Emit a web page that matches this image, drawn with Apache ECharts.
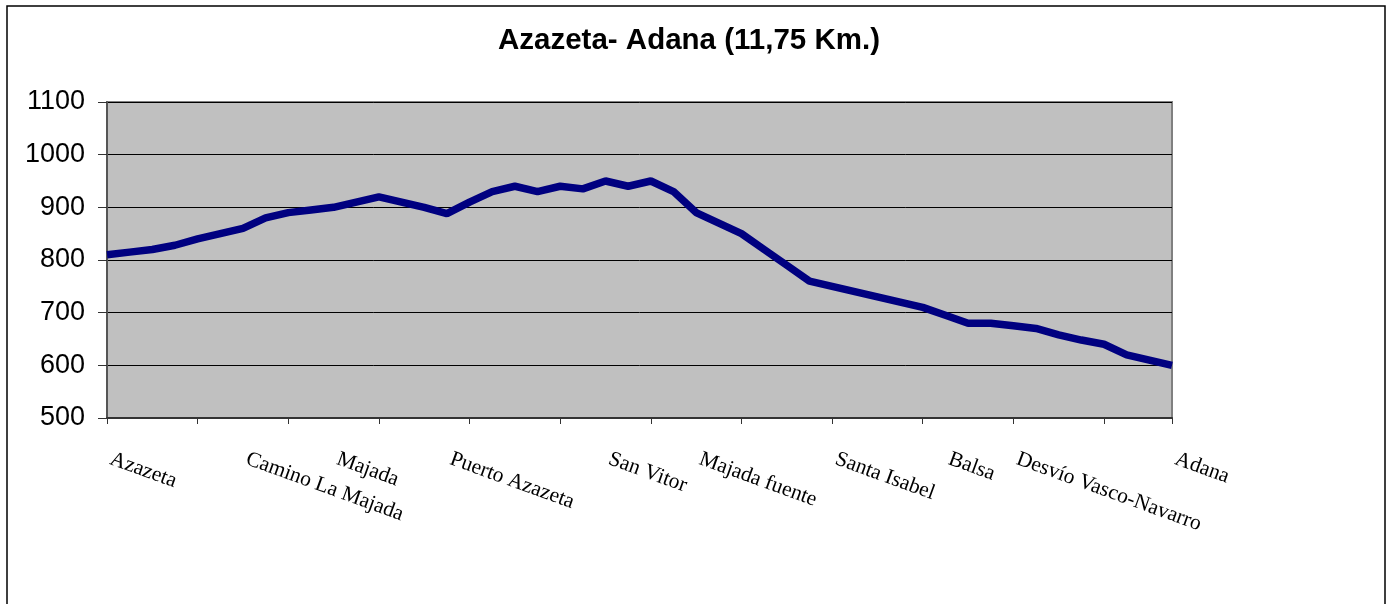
<!DOCTYPE html>
<html>
<head>
<meta charset="utf-8">
<script src="https://cdn.jsdelivr.net/npm/echarts@6/dist/echarts.min.js"></script>
<style>
  html, body { margin: 0; padding: 0; background: #fff; }
  #main { width: 1391px; height: 604px; }
</style>
</head>
<body>
<div id="main"></div>
<script>
// perfil cada 0,25 km (48 puntos), nombre solo donde hay lugar
var categories = [
  'Azazeta', '', '', '', '', '', 'Camino La Majada', '', '', '', 'Majada', '',
  '', '', '', 'Puerto Azazeta', '', '', '', '', '', '', 'San Vitor', '',
  '', '', 'Majada fuente', '', '', '', '', '', 'Santa Isabel', '', '', '',
  '', 'Balsa', '', '', 'Desvío Vasco-Navarro', '', '', '', '', '', '', 'Adana'
];
var elevation = [
  810, 815, 820, 828, 840, 850, 860, 880, 890, 895, 900, 910,
  920, 910, 900, 888, 910, 930, 940, 930, 940, 935, 950, 940,
  950, 930, 890, 870, 850, 820, 790, 760, 750, 740, 730, 720,
  710, 695, 680, 680, 675, 670, 658, 648, 640, 620, 610, 600
];
var yMin = 500, yMax = 1100, yStep = 100;

var myChart = echarts.init(document.getElementById('main'));
var option = {
  animation: false,
  title: {
    text: 'Azazeta- Adana (11,75 Km.)',
    left: 498,
    top: 26,
    padding: 0,
    textStyle: {
      fontFamily: 'Liberation Sans',
      fontWeight: 'bold',
      fontSize: 29.5,
      color: '#000'
    }
  },
  // marco exterior del grafico
  graphic: [{
    type: 'rect',
    shape: { x: 7, y: 6, width: 1378, height: 700 },
    style: { fill: 'none', stroke: '#000', lineWidth: 1.5 },
    silent: true
  }],
  grid: {
    left: 107,
    top: 102,
    right: 219,
    bottom: 186,
    show: true,
    backgroundColor: '#C0C0C0',
    borderColor: '#808080',
    borderWidth: 2
  },
  xAxis: {
    type: 'category',
    boundaryGap: false,
    data: categories,
    axisLine: { lineStyle: { color: '#333', width: 2 } },
    axisTick: { interval: 3, length: 6, lineStyle: { color: '#333' } },
    axisLabel: {
      interval: 0,
      rotate: -20,
      margin: 39,
      padding: [0, 0, 0, 4],
      fontFamily: 'Liberation Serif',
      fontSize: 21.5,
      color: '#000'
    },
    splitLine: { show: false }
  },
  yAxis: {
    type: 'value',
    min: yMin,
    max: yMax,
    interval: yStep,
    axisLine: { show: true, lineStyle: { color: '#555', width: 2 } },
    axisTick: { show: true, length: 9, lineStyle: { color: '#333' } },
    axisLabel: {
      margin: 22,
      formatter: function (v) { return String(v); },
      fontFamily: 'Liberation Sans',
      fontSize: 27,
      color: '#000'
    },
    splitLine: { show: true, lineStyle: { color: '#000', width: 1 } }
  },
  series: [{
    type: 'line',
    data: elevation,
    showSymbol: false,
    symbol: 'none',
    lineStyle: { color: '#000080', width: 7.5 },
    itemStyle: { color: '#000080' }
  }]
};
myChart.setOption(option);
</script>
</body>
</html>
